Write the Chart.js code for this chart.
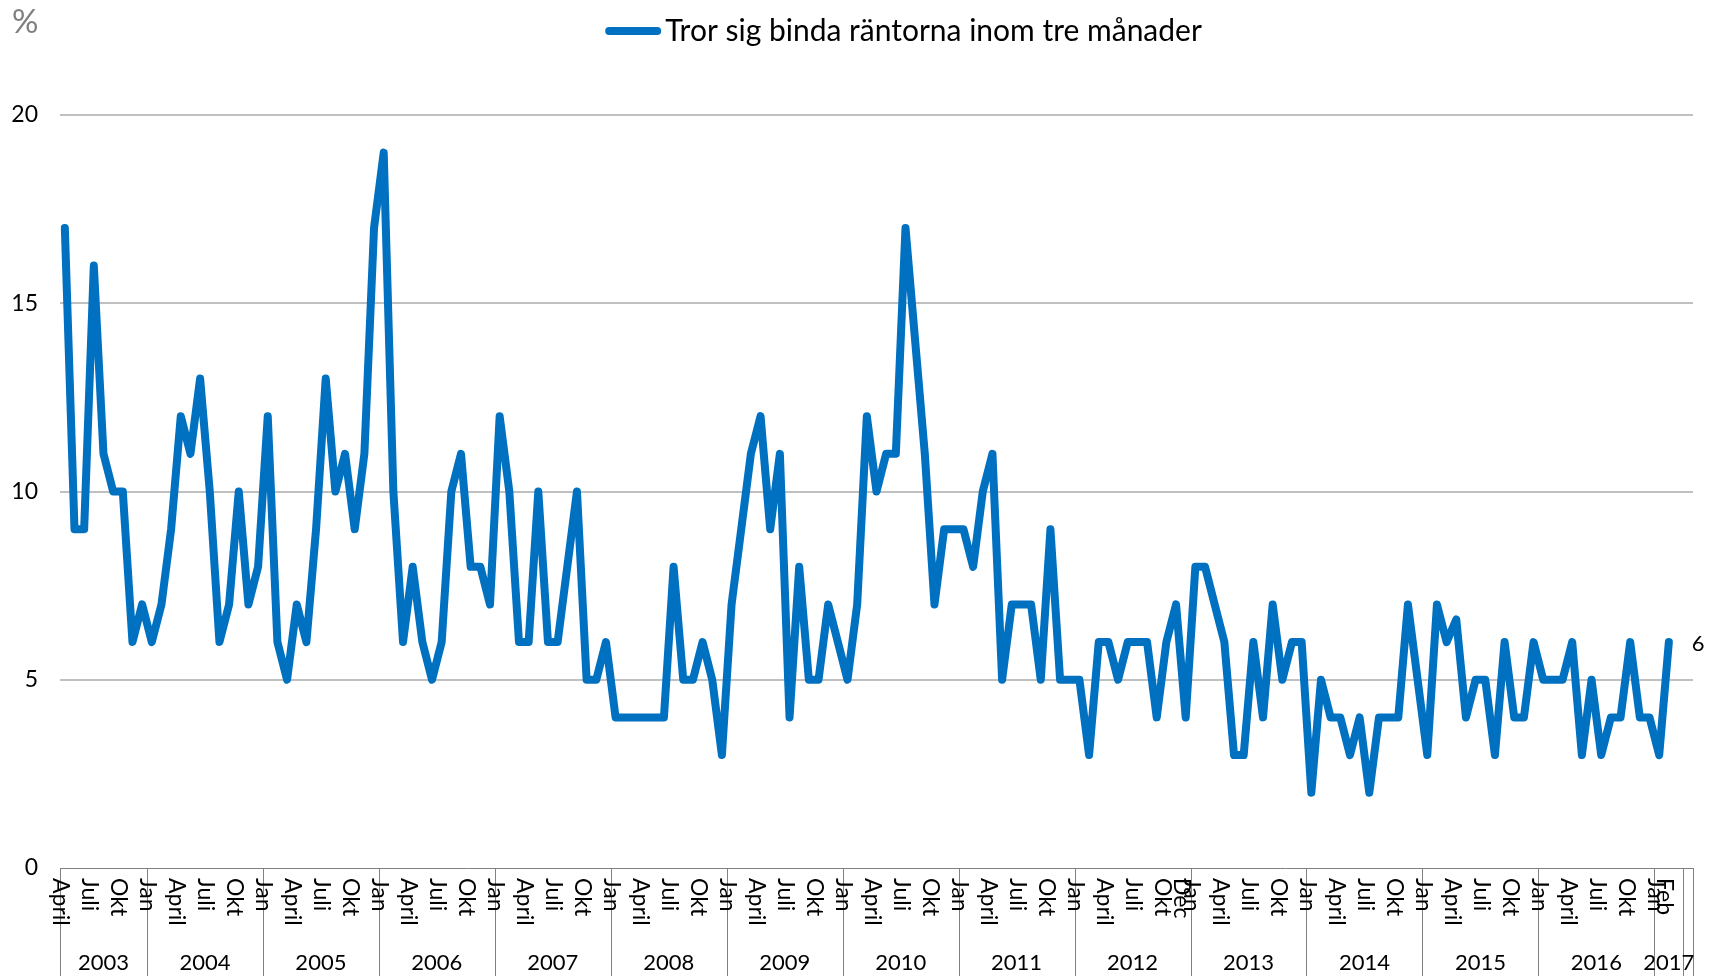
<!DOCTYPE html>
<html>
<head>
<meta charset="utf-8">
<script src="https://cdn.jsdelivr.net/npm/chart.js@4.4.1/dist/chart.umd.min.js"></script>
<style>
  html, body { margin: 0; padding: 0; background: #fff; }
  #wrap { width: 1711px; height: 976px; }
</style>
</head>
<body>
<div id="wrap"><canvas id="chart"></canvas></div>
<script>
// ── DATA (%) — monthly, April 2003 to February 2017 ─────────
const v2003 = [17, 9, 9, 16, 11, 10, 10, 6, 7];            // April–Dec
const v2004 = [6, 7, 9, 12, 11, 13, 10, 6, 7, 10, 7, 8];
const v2005 = [12, 6, 5, 7, 6, 9, 13, 10, 11, 9, 11, 17];
const v2006 = [19, 10, 6, 8, 6, 5, 6, 10, 11, 8, 8, 7];
const v2007 = [12, 10, 6, 6, 10, 6, 6, 8, 10, 5, 5, 6];
const v2008 = [4, 4, 4, 4, 4, 4, 8, 5, 5, 6, 5, 3];
const v2009 = [7, 9, 11, 12, 9, 11, 4, 8, 5, 5, 7, 6];
const v2010 = [5, 7, 12, 10, 11, 11, 17, 14, 11, 7, 9, 9];
const v2011 = [9, 8, 10, 11, 5, 7, 7, 7, 5, 9, 5, 5];
const v2012 = [5, 3, 6, 6, 5, 6, 6, 6, 4, 6, 7, 4];
const v2013 = [8, 8, 7, 6, 3, 3, 6, 4, 7, 5, 6, 6];
const v2014 = [2, 5, 4, 4, 3, 4, 2, 4, 4, 4, 7, 5];
const v2015 = [3, 7, 6, 6.6, 4, 5, 5, 3, 6, 4, 4, 6];
const v2016 = [5, 5, 5, 6, 3, 5, 3, 4, 4, 6, 4, 4];
const v2017 = [3, 6];                                       // Jan–Feb

const YEARS       = [2003, 2004, 2005, 2006, 2007, 2008, 2009, 2010, 2011, 2012, 2013, 2014, 2015, 2016, 2017];
const YEAR_VALUES = [v2003, v2004, v2005, v2006, v2007, v2008, v2009, v2010, v2011, v2012, v2013, v2014, v2015, v2016, v2017];
const MONTH_TICKS = { 1: 'Jan', 4: 'April', 7: 'Juli', 10: 'Okt' };
const EXTRA_TICKS = { '2012-12': 'Dec', '2017-2': 'Feb' };
const SERIES_NAME = 'Tror sig binda räntorna inom tre månader';
const UNIT        = '%';
const Y_TICKS     = [0, 5, 10, 15, 20];

// ── STYLE ────────────────────────────────────────────────────
const BLUE  = '#0070C0';
const FONT  = 'Lato, "DejaVu Sans", sans-serif';
const AXIS  = '#808080';

// ── CATEGORIES (one slot per month, Excel-style year groups) ─
const categories = [];
YEARS.forEach(year => {
  const first = year === 2003 ? 4 : 1;
  const last  = year === 2017 ? 3 : 12;   // 2017 group keeps an empty March slot
  for (let m = first; m <= last; m++) categories.push({ year, month: m });
});
categories.push({ year: null, month: null }); // trailing empty slot

const labels = categories.map(c => c.year ? `${c.year}-${c.month}` : '');
const values = [].concat(...YEAR_VALUES);

function tickText(c) {
  if (!c.year) return '';
  return EXTRA_TICKS[`${c.year}-${c.month}`] || MONTH_TICKS[c.month] || '';
}

// ── DECORATION PLUGIN: multi-level axis, legend, unit, end label ─
const decor = {
  id: 'decor',
  afterDraw(chart) {
    const { ctx, chartArea: a, scales: { x, y } } = chart;
    const slot = x.getPixelForValue(1) - x.getPixelForValue(0);
    const edge = i => x.getPixelForValue(i) - slot / 2;
    ctx.save();

    // group boundaries
    const starts = [];
    categories.forEach((c, i) => { if (i === 0 || c.year !== categories[i - 1].year) starts.push(i); });
    const bounds = [...starts, categories.length];
    ctx.strokeStyle = AXIS;
    ctx.lineWidth = 1;
    bounds.forEach(i => {
      const px = Math.round(edge(i)) + 0.5;
      ctx.beginPath();
      ctx.moveTo(px, a.bottom);
      ctx.lineTo(px, chart.height);
      ctx.stroke();
    });

    // month labels, rotated to read downwards
    ctx.fillStyle = '#000';
    ctx.font = `23px ${FONT}`;
    ctx.textAlign = 'left';
    ctx.textBaseline = 'middle';
    categories.forEach((c, i) => {
      const t = tickText(c);
      if (!t) return;
      ctx.save();
      ctx.translate(x.getPixelForValue(i) - 4, a.bottom + 10);
      ctx.rotate(Math.PI / 2);
      ctx.fillText(t, 0, 0);
      ctx.restore();
    });

    // year labels
    ctx.font = `22px ${FONT}`;
    ctx.textAlign = 'center';
    starts.forEach((s, k) => {
      const c = categories[s];
      if (!c.year) return;
      ctx.fillText(String(c.year), (edge(s) + edge(bounds[k + 1])) / 2, a.bottom + 95);
    });

    // end value label
    const li = values.length - 1;
    ctx.textAlign = 'left';
    ctx.font = `22px ${FONT}`;
    ctx.fillText(String(values[li]), x.getPixelForValue(li) + 23, y.getPixelForValue(values[li]) + 2);

    // unit
    ctx.fillStyle = '#7f7f7f';
    ctx.font = `33px ${FONT}`;
    ctx.fillText(UNIT, 12, 22);

    // legend
    ctx.font = `30px ${FONT}`;
    const tw = ctx.measureText(SERIES_NAME).width;
    const lineW = 56, gap = 4;
    const x0 = (a.left + a.right) / 2 + 27 - (lineW + gap + tw) / 2;
    const ly = 31;
    ctx.strokeStyle = BLUE;
    ctx.lineWidth = 8;
    ctx.lineCap = 'round';
    ctx.beginPath();
    ctx.moveTo(x0 + 4, ly);
    ctx.lineTo(x0 + lineW - 4, ly);
    ctx.stroke();
    ctx.fillStyle = '#000';
    ctx.fillText(SERIES_NAME, x0 + lineW + gap, ly);

    ctx.restore();
  },
};

// ── CHART ────────────────────────────────────────────────────
new Chart(document.getElementById('chart'), {
  type: 'line',
  data: {
    labels,
    datasets: [{
      label: SERIES_NAME,
      data: values,
      borderColor: BLUE,
      backgroundColor: BLUE,
      borderWidth: 8,
      borderJoinStyle: 'round',
      borderCapStyle: 'round',
      pointRadius: 0,
      tension: 0,
      fill: false,
    }],
  },
  options: {
    responsive: true,
    maintainAspectRatio: false,
    animation: false,
    layout: { padding: { top: 115, right: 18, bottom: 0, left: 0 } },
    plugins: {
      legend:  { display: false },
      tooltip: { enabled: false },
    },
    scales: {
      x: {
        offset: true,
        grid:   { display: false },
        border: { color: AXIS, width: 1 },
        ticks:  { display: false },
        afterFit: s => { s.height = 108; },
      },
      y: {
        min: Y_TICKS[0],
        max: Y_TICKS[Y_TICKS.length - 1],
        afterBuildTicks: s => { s.ticks = Y_TICKS.map(v => ({ value: v })); },
        ticks: { color: '#000', padding: 22, font: { family: FONT, size: 23 } },
        grid: {
          color: c => (c.tick && c.tick.value === 0) ? 'rgba(0,0,0,0)' : '#c0c0c0',
          lineWidth: 2,
          drawTicks: false,
        },
        border: { display: false },
        afterFit: s => { s.width = 60; },
      },
    },
  },
  plugins: [decor],
});
</script>
</body>
</html>
